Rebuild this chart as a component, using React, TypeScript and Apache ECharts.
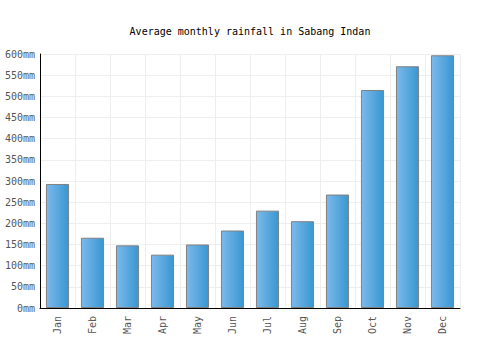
import React, { useEffect, useRef } from "react";
import * as echarts from "echarts";

const months = ["Jan", "Feb", "Mar", "Apr", "May", "Jun", "Jul", "Aug", "Sep", "Oct", "Nov", "Dec"];
const rainfall = [293, 166, 148, 126, 150, 183, 230, 205, 268, 515, 571, 597];
const titleText = "Average monthly rainfall in Sabang Indan";

export default function App() {
  const ref = useRef<HTMLDivElement>(null);
  useEffect(() => {
    if (!ref.current) return;
    const chart = echarts.init(ref.current, null, { renderer: "svg" });
    const font = "'DejaVu Sans Mono', monospace";
    chart.setOption({
      animation: false,
      backgroundColor: "#ffffff",
      title: {
        text: titleText,
        left: "center",
        top: 21,
        textStyle: { fontFamily: font, fontSize: 10, fontWeight: "normal", color: "#000" },
      },
      grid: { left: 40, right: 40, top: 54, bottom: 42, containLabel: false },
      xAxis: {
        type: "category",
        data: months,
        axisLine: { lineStyle: { color: "#000", width: 1 } },
        axisTick: { show: false },
        axisLabel: { rotate: 90, fontFamily: font, fontSize: 10, color: "#555", margin: 8 },
        splitLine: { show: true, lineStyle: { color: "#eeeeee" } },
      },
      yAxis: {
        type: "value",
        min: 0,
        max: 600,
        interval: 50,
        axisLine: { show: true, lineStyle: { color: "#000", width: 1 } },
        axisTick: { show: false },
        axisLabel: { formatter: "{value}mm", fontFamily: font, fontSize: 10, color: "#555", margin: 5 },
        splitLine: { show: true, lineStyle: { color: "#eeeeee" } },
      },
      series: [
        {
          type: "bar",
          data: rainfall,
          barCategoryGap: "34%",
          itemStyle: {
            color: new echarts.graphic.LinearGradient(0, 0, 1, 0, [
              { offset: 0, color: "#7cb9eb" },
              { offset: 1, color: "#3997d1" },
            ]),
            borderColor: "#808080",
            borderWidth: 1,
          },
        },
      ],
    });
    return () => chart.dispose();
  }, []);
  return <div ref={ref} style={{ width: 500, height: 350, position: "absolute", left: 0, top: 0 }} />;
}
